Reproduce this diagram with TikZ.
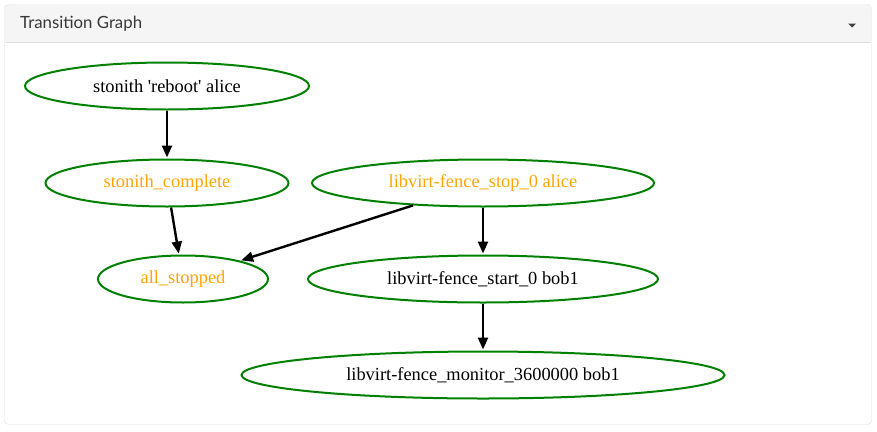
\documentclass[tikz,border=0pt]{standalone}
\usepackage{fontspec}
\setmainfont{Liberation Serif}
\newfontfamily\panelfont{Lato}
\usetikzlibrary{arrows.meta,shapes.geometric,positioning}
\definecolor{nodegreen}{HTML}{008000}
\definecolor{nodeorange}{HTML}{FFA500}
\definecolor{panelgray}{HTML}{F5F5F5}
\definecolor{panelline}{HTML}{DDDDDD}
\tikzset{
	act/.style={ellipse,draw=nodegreen,line width=2pt,inner sep=0,minimum height=47pt,font=\fontsize{18.4}{22}\selectfont},
	pseudo/.style={act,text=nodeorange},
	diredge/.style={-{Triangle[width=10pt,length=12pt]},color=black,line width=2.4pt,shorten >=1pt},
	paneltitle/.style={font=\panelfont\fontsize{16.8}{20}\selectfont,text=black!78,anchor=west,inner sep=0}
}
\begin{document}
\begin{tikzpicture}[x=1pt,y=-1pt]
		\useasboundingbox (0,0) rectangle (877,431);
		%%%panel
		\fill[white,draw=panelline,rounded corners=4pt] (4.5,4.5) rectangle (871.5,424.5);
		\fill[panelgray,rounded corners=4pt] (5,5) rectangle (871,41.5);
		\fill[panelgray] (5,20) rectangle (871,41.5);
		\draw[panelline] (5,42) -- (871,42);
		\node[paneltitle] (title) at (20,24) {Transition Graph};
		\fill[black!75] (848,23.5) -- (856,23.5) -- (852,27.5) -- cycle;
		%%%actions
		\node[act,minimum width=284pt] (reboot) at (167,86) {stonith \textquotesingle reboot\textquotesingle{} alice};
		\node[pseudo,minimum width=243pt] (complete) at (167,183) {stonith\_complete};
		\node[pseudo,minimum width=342pt] (stop) at (483,183) {libvirt-fence\_stop\_0 alice};
		\node[pseudo,minimum width=170pt] (stopped) at (183,279) {all\_stopped};
		\node[act,minimum width=350pt] (start) at (483,279) {libvirt-fence\_start\_0 bob1};
		\node[act,minimum width=483pt] (monitor) at (483,375) {libvirt-fence\_monitor\_3600000 bob1};
		\draw[diredge] (reboot) -- (complete);
		\draw[diredge] (complete) -- (stopped);
		\draw[diredge] (stop) -- (stopped);
		\draw[diredge] (stop) -- (start);
		\draw[diredge] (start) -- (monitor);
	\end{tikzpicture}
\end{document}
